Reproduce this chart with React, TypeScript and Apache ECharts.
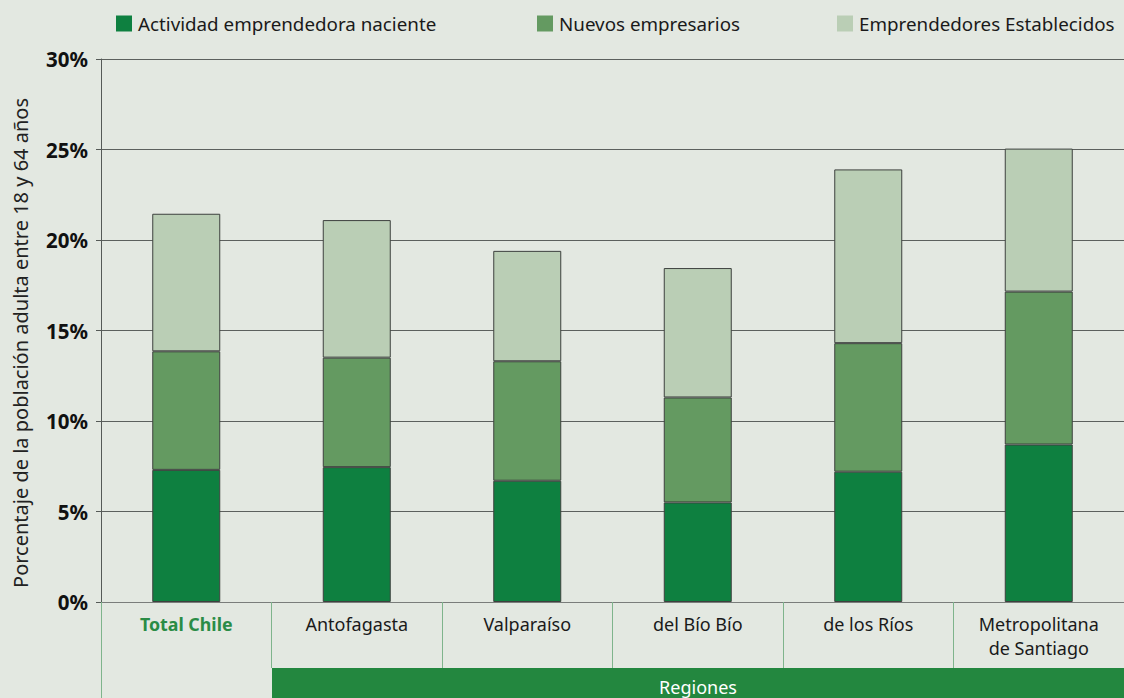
import React, { useEffect, useRef } from "react";
import * as echarts from "echarts";

const categories = ["Total Chile", "Antofagasta", "Valparaíso", "del Bío Bío", "de los Ríos", "Metropolitana\nde Santiago"];
const seriesNames = ["Actividad emprendedora naciente", "Nuevos empresarios", "Emprendedores Establecidos"];
const naciente = [7.3, 7.45, 6.7, 5.5, 7.2, 8.7];
const nuevos = [6.55, 6.05, 6.6, 5.8, 7.1, 8.45];
const establecidos = [7.6, 7.6, 6.1, 7.15, 9.6, 7.9];
const yTicks = { min: 0, max: 30, interval: 5 };
const yTitle = "Porcentaje de la población adulta entre 18 y 64 años";
const groupLabel = "Regiones";

const colors = ["#0e8040", "#649a61", "#baceb5"];
const FONT = "'Noto Sans', sans-serif";

export default function App() {
  const ref = useRef<HTMLDivElement>(null);
  useEffect(() => {
    if (!ref.current) return;
    const chart = echarts.init(ref.current, null, { renderer: "svg" });
    const values = [naciente, nuevos, establecidos];
    const legendLefts = [116, 537, 837];
    chart.setOption({
      animation: false,
      backgroundColor: "#e3e8e1",
      textStyle: { fontFamily: FONT },
      legend: seriesNames.map((n, i) => ({
        data: [n],
        left: legendLefts[i],
        top: 14,
        padding: 0,
        icon: "rect",
        itemWidth: 16,
        itemHeight: 16,
        itemGap: 6,
        selectedMode: false,
        itemStyle: { borderWidth: 0 },
        textStyle: { fontSize: 18.8, color: "#1a1a1a", fontFamily: FONT, padding: [0, 0, 0, 1] },
      })),
      grid: { left: 101, width: 1026, top: 59, bottom: 96, containLabel: false },
      xAxis: {
        type: "category",
        data: categories,
        axisLine: { show: true, lineStyle: { color: "#7a7d7b", width: 1 } },
        axisTick: { show: true, length: 66, interval: 0, lineStyle: { color: "#7fb48c", width: 1 } },
        axisLabel: {
          interval: 0,
          margin: 10,
          fontSize: 18,
          lineHeight: 24,
          color: "#1a1a1a",
          fontFamily: FONT,
          formatter: (v: string) => (v === "Total Chile" ? "{b|" + v + "}" : v),
          rich: { b: { fontWeight: "bold", color: "#2a8c46", fontSize: 17.8, fontFamily: FONT } },
        },
      },
      yAxis: {
        type: "value",
        min: yTicks.min,
        max: yTicks.max,
        interval: yTicks.interval,
        axisLine: { show: true, lineStyle: { color: "#555a57" } },
        axisTick: { show: true, length: 5, lineStyle: { color: "#555a57" } },
        axisLabel: {
          formatter: "{value}%",
          fontWeight: "bold",
          fontSize: 20.5,
          color: "#111",
          margin: 13,
          fontFamily: FONT,
        },
        splitLine: { show: true, lineStyle: { color: "#5c605d", width: 1 } },
      },
      series: seriesNames.map((n, i) => ({
        name: n,
        type: "bar",
        stack: "total",
        barWidth: 68,
        data: values[i],
        itemStyle: { color: colors[i], borderColor: "#3d403e", borderWidth: 1 },
      })),
      graphic: [
        {
          type: "rect",
          shape: { x: 272, y: 668, width: 860, height: 40 },
          style: { fill: "#23873f" },
          z: 10,
        },
        {
          type: "line",
          shape: { x1: 101.5, y1: 602, x2: 101.5, y2: 698 },
          style: { stroke: "#7fb48c", lineWidth: 1 },
          z: 10,
        },
        {
          type: "text",
          x: 698,
          y: 687,
          style: {
            text: groupLabel,
            fill: "#ffffff",
            fontSize: 18,
            fontFamily: FONT,
            align: "center",
            verticalAlign: "middle",
          },
          z: 11,
        },
        {
          type: "text",
          x: 20,
          y: 343,
          rotation: Math.PI / 2,
          style: {
            text: yTitle,
            fill: "#222",
            fontSize: 20,
            fontFamily: FONT,
            align: "center",
            verticalAlign: "middle",
          },
          z: 11,
        },
      ],
    });
    return () => chart.dispose();
  }, []);
  return (
    <div
      ref={ref}
      style={{ position: "fixed", left: 0, top: 0, width: 1124, height: 698 }}
    />
  );
}
